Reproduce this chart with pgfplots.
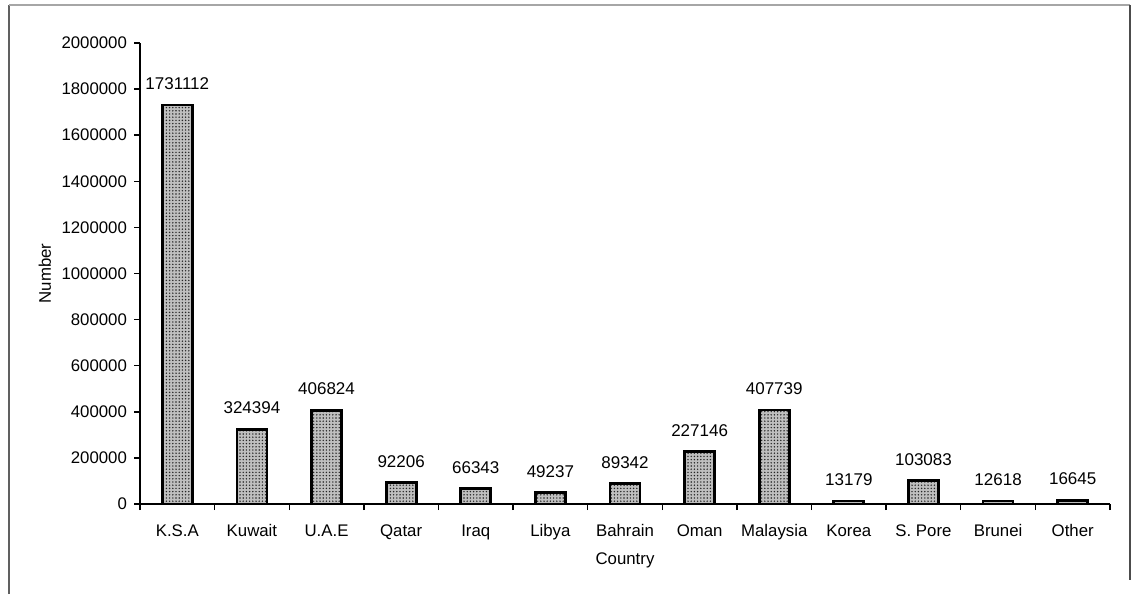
\documentclass[border=0pt]{standalone}
\usepackage{pgfplots}
\pgfplotsset{compat=1.18}
\usepackage{pgfplotstable}
\usetikzlibrary{patterns.meta}
\usepackage{fontspec}
\setmainfont{Liberation Sans}

% Workers by country of destination
\pgfplotstableread{
x y label
1 1731112 1731112
2 324394 324394
3 406824 406824
4 92206 92206
5 66343 66343
6 49237 49237
7 89342 89342
8 227146 227146
9 407739 407739
10 13179 13179
11 103083 103083
12 12618 12618
13 16645 16645
}\countrydata

\begin{document}
\begin{tikzpicture}
\path[use as bounding box] (0,0) rectangle (566.5pt,297pt);
% outer frame
\draw[gray!75!black, line width=0.9pt] (4.5pt,0pt) -- (4.5pt,294.5pt);
\draw[gray!70, line width=0.6pt] (4.5pt,294.5pt) -- (565pt,294.5pt);
\draw[gray!60!black, line width=0.8pt] (565pt,294.5pt) -- (565pt,7pt);
\begin{axis}[
  at={(70pt,45pt)}, anchor=south west,
  scale only axis,
  width=485pt, height=230.5pt,
  xmin=0.5, xmax=13.5,
  ymin=0, ymax=2000000,
  axis x line=bottom, axis y line=left,
  axis line style={-, line width=0.7pt},
  tick align=outside,
  font=\fontsize{8.4pt}{10pt}\selectfont,
  xtick=data,
  xticklabels={K.S.A, Kuwait, U.A.E, Qatar, Iraq, Libya, Bahrain, Oman, Malaysia, Korea, S. Pore, Brunei, Other},
  major x tick style={draw=none},
  minor xtick={0.5,1.5,...,13.5},
  minor tick length=3pt,
  minor x tick style={line width=0.7pt, black},
  xticklabel style={text height=6pt, text depth=1.5pt, yshift=-3.8pt},
  ytick distance=200000,
  major tick length=3pt,
  major y tick style={line width=0.7pt, black},
  scaled y ticks=false,
  yticklabel style={/pgf/number format/.cd, fixed, 1000 sep={}, assume math mode=true},
  ylabel={Number},
  ylabel style={at={(axis description cs:-0.098,0.5)}, anchor=center},
  xlabel={Country},
  xlabel style={at={(axis description cs:0.5,-0.123)}, anchor=center},
  ybar, bar width=15pt,
  point meta=explicit symbolic,
  nodes near coords,
  nodes near coords style={anchor=south, yshift=3.5pt, font=\fontsize{8.5pt}{10pt}\selectfont},
  clip=false,
]
\addplot[draw=black, line width=1.4pt, fill=gray!50,
  postaction={pattern={Dots[radius=0.4pt, distance=1.6pt]}, pattern color=black!85}]
  table[x=x, y=y, meta=label] {\countrydata};
\end{axis}
\end{tikzpicture}
\end{document}
